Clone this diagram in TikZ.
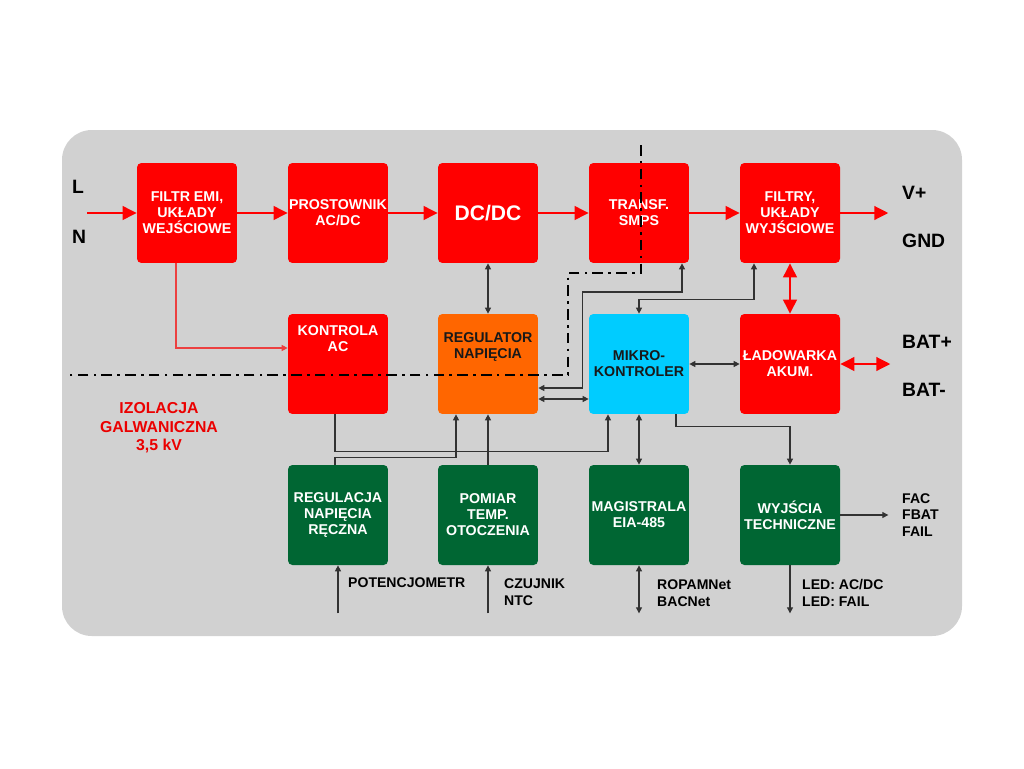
\documentclass[tikz,border=0pt]{standalone}
\usepackage{fontspec}
\setmainfont{Liberation Sans}
\usetikzlibrary{arrows.meta,calc,positioning}
\definecolor{panelgrey}{RGB}{209,209,209}
\definecolor{powerred}{RGB}{255,0,0}
\definecolor{thinred}{RGB}{236,64,64}
\definecolor{regorange}{RGB}{255,102,0}
\definecolor{mcucyan}{RGB}{0,204,255}
\definecolor{iogreen}{RGB}{0,102,51}
\definecolor{wiregrey}{RGB}{50,50,50}
\tikzset{
  bigtip/.tip={Triangle[length=2.8mm,width=2.7mm]},
  smalltip/.tip={Triangle[length=1.2mm,width=1.2mm]},
  power/.style={-bigtip,draw=powerred,line width=1.4pt},
  powerboth/.style={power,bigtip-bigtip},
  sig/.style={-smalltip,draw=wiregrey,line width=0.6pt},
  sigboth/.style={sig,smalltip-smalltip},
  acsense/.style={-smalltip,draw=thinred,line width=0.6pt},
  isolation/.style={black,line width=1.4pt,dash pattern=on 6pt off 3pt on 1.5pt off 3pt},
  block/.style={rounded corners=2.5pt,minimum width=2cm,minimum height=2cm,inner sep=0pt,
                align=center,font=\fontsize{8.1}{9.1}\selectfont\bfseries,text=white},
  powerblock/.style={block,fill=powerred},
  regblock/.style={block,fill=regorange,text=black!90},
  mcublock/.style={block,fill=mcucyan,text=black!90},
  ioblock/.style={block,fill=iogreen},
  uppertext/.style={text depth=#1},
  pin/.style={font=\fontsize{11}{13}\selectfont\bfseries,anchor=west},
  lab/.style={font=\fontsize{8}{9.3}\selectfont\bfseries,align=left,anchor=west},
  isonote/.style={font=\fontsize{9}{10.5}\selectfont\bfseries,text=powerred!92!black,align=center},
}
\begin{document}
\begin{tikzpicture}[x=0.02cm,y=-0.02cm]
  \path[use as bounding box] (0,0) rectangle (1024,768);
  \fill[panelgrey,rounded corners=17pt] (62,130) rectangle (962,636);

  % power path
  \node[powerblock] (filtr) at (187,213) {FILTR EMI,\\UKŁADY\\WEJŚCIOWE};
  \node[powerblock] (prost) at (338,213) {PROSTOWNIK\\AC/DC};
  \node[powerblock,font=\fontsize{12}{14}\selectfont\bfseries] (dcdc) at (488,213) {DC/DC};
  \node[powerblock] (transf) at (639,213) {TRANSF.\\SMPS};
  \node[powerblock] (filtry) at (790,213) {FILTRY,\\UKŁADY\\WYJŚCIOWE};

  \node[powerblock,uppertext=1cm] (kontrola) at (338,364) {KONTROLA\\AC};
  \node[regblock,uppertext=0.72cm] (regul) at (488,364) {REGULATOR\\NAPIĘCIA};
  \node[mcublock] (mikro) at (639,364) {MIKRO-\\KONTROLER};
  \node[powerblock] (ladow) at (790,364) {ŁADOWARKA\\AKUM.};

  \node[ioblock] (reczna) at (338,515) {REGULACJA\\NAPIĘCIA\\RĘCZNA};
  \node[ioblock] (pomiar) at (488,515) {POMIAR\\TEMP.\\OTOCZENIA};
  \node[ioblock] (magistr) at (639,515) {MAGISTRALA\\EIA-485};
  \node[ioblock] (wyjscia) at (790,515) {WYJŚCIA\\TECHNICZNE};

  % terminals
  \coordinate (lin) at (87,213);
  \coordinate[right=0.96cm of filtry] (vout);
  \coordinate[right=1cm of ladow] (batout);
  \coordinate[right=0.96cm of wyjscia] (facout);
  \coordinate[below=0.96cm of reczna] (potin);
  \coordinate[below=0.96cm of pomiar] (ntcin);
  \coordinate[below=0.96cm of magistr] (busout);
  \coordinate[below=0.96cm of wyjscia] (ledout);

  \node[pin] (lpin) at (66,187) {L};
  \node[pin] (npin) at (66,237) {N};
  \node[pin] (vplus) at (896,193) {V+};
  \node[pin] (gnd) at (896,241) {GND};
  \node[pin] (batp) at (896,342) {BAT+};
  \node[pin] (batm) at (896,390) {BAT-};
  \node[lab] (faclab) at (896,515) {FAC\\FBAT\\FAIL};
  \node[lab] (potlab) at (342,583) {POTENCJOMETR};
  \node[lab] (ntclab) at (498,592) {CZUJNIK\\NTC};
  \node[lab] (buslab) at (651,593) {ROPAMNet\\BACNet};
  \node[lab] (ledlab) at (796,593) {LED: AC/DC\\LED: FAIL};
  \node[isonote] (izol) at (159,428) {IZOLACJA\\GALWANICZNA\\3,5 kV};

  \draw[power] (lin) -- (filtr);
  \draw[power] (filtr) -- (prost);
  \draw[power] (prost) -- (dcdc);
  \draw[power] (dcdc) -- (transf);
  \draw[power] (transf) -- (filtry);
  \draw[power] (filtry) -- (vout);
  \draw[powerboth] (filtry) -- (ladow);
  \draw[powerboth] (ladow) -- (batout);

  \draw[acsense] ($(filtr.south)+(-11,0)$) |- ($(kontrola.west)+(0,-16)$);

  \draw[sigboth] (dcdc) -- (regul);
  \draw[sigboth] ($(regul.east)+(0,24)$) -| ++(44,-96) -| ($(transf.south)+(43,0)$);
  \draw[sigboth] (mikro.north) |- ++(115,-14) -- ($(filtry.south)+(-36,0)$);
  \draw[sigboth] ($(regul.east)+(0,35)$) -- ($(mikro.west)+(0,35)$);
  \draw[sigboth] (mikro) -- (ladow);
  \draw[sig] ($(kontrola.south)+(-3,0)$) |- ($(mikro.south)+(-31,37)$) -- ($(mikro.south)+(-31,0)$);
  \draw[sig] ($(reczna.north)+(-3,0)$) |- ($(regul.south)+(-32,43)$) -- ($(regul.south)+(-32,0)$);
  \draw[sig] (pomiar) -- (regul);
  \draw[sigboth] (mikro) -- (magistr);
  \draw[sig] ($(mikro.south)+(37,0)$) |- ($(wyjscia.north)+(0,-38)$) -- (wyjscia.north);
  \draw[sig] (wyjscia) -- (facout);
  \draw[sigboth] (magistr) -- (busout);
  \draw[sig] (wyjscia) -- (ledout);
  \draw[sig] (potin) -- (reczna);
  \draw[sig] (ntcin) -- (pomiar);

  % galvanic isolation boundary
  \draw[isolation] (641,145) -- (641,273) -| (568,375) -- (65,375);
\end{tikzpicture}
\end{document}
